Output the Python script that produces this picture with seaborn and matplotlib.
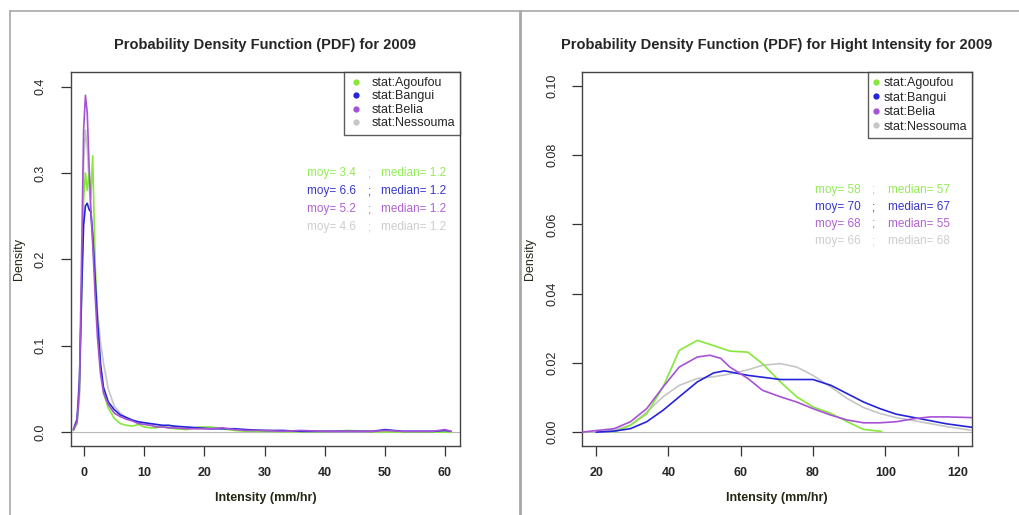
import numpy as np
import pandas as pd
import matplotlib
matplotlib.use("Agg")
import matplotlib.pyplot as plt
from matplotlib.lines import Line2D
import seaborn as sns

# ---------------- data ----------------
stations = ["Agoufou", "Bangui", "Belia", "Nessouma"]
line_colors = ["#86e83a", "#2424d8", "#a652d6", "#c6c6c6"]
text_colors = ["#92ec56", "#3838cc", "#b062d2", "#cdcdcd"]

# left panel: all intensities
x_all = [-1.8, -1.2, -0.8, -0.4, -0.1, 0.2, 0.5, 0.8, 1.1, 1.4, 1.8, 2.2, 2.7, 3.2,
         4.0, 5.0, 6.0, 7.0, 8.0, 9.0, 10, 11, 12, 13, 14, 15, 17, 19, 21, 23, 25,
         27, 30, 33, 36, 40, 44, 48, 50, 53, 56, 58, 60, 61]
y_all_agoufou = [0.002, 0.01, 0.045, 0.17, 0.27, 0.30, 0.28, 0.30, 0.27, 0.32, 0.20,
                 0.13, 0.075, 0.045, 0.028, 0.016, 0.010, 0.008, 0.007, 0.009, 0.006,
                 0.005, 0.005, 0.007, 0.005, 0.004, 0.003, 0.006, 0.006, 0.004, 0.002,
                 0.001, 0.001, 0.0005, 0.0005, 0.0005, 0.002, 0.0003, 0.0003, 0.0002,
                 0.0002, 0.0001, 0.0001, 0.0]
y_all_bangui = [0.003, 0.015, 0.06, 0.17, 0.24, 0.262, 0.265, 0.258, 0.255, 0.23, 0.18,
                0.13, 0.08, 0.052, 0.035, 0.026, 0.02, 0.017, 0.014, 0.012, 0.011,
                0.010, 0.009, 0.008, 0.008, 0.007, 0.006, 0.005, 0.004, 0.004, 0.004,
                0.003, 0.002, 0.002, 0.001, 0.001, 0.001, 0.001, 0.003, 0.001, 0.001,
                0.001, 0.002, 0.001]
y_all_belia = [0.003, 0.012, 0.05, 0.22, 0.35, 0.39, 0.37, 0.31, 0.26, 0.22, 0.16,
               0.11, 0.068, 0.046, 0.032, 0.022, 0.018, 0.015, 0.013, 0.010, 0.009,
               0.008, 0.006, 0.006, 0.005, 0.005, 0.004, 0.004, 0.004, 0.005, 0.003,
               0.002, 0.002, 0.001, 0.002, 0.001, 0.001, 0.001, 0.002, 0.001, 0.001,
               0.001, 0.003, 0.001]
y_all_nessouma = [0.002, 0.01, 0.04, 0.18, 0.31, 0.35, 0.33, 0.29, 0.25, 0.22, 0.18,
                  0.14, 0.105, 0.08, 0.05, 0.03, 0.022, 0.017, 0.014, 0.012, 0.010,
                  0.009, 0.008, 0.007, 0.006, 0.006, 0.005, 0.004, 0.004, 0.004, 0.003,
                  0.002, 0.002, 0.001, 0.001, 0.001, 0.001, 0.001, 0.001, 0.0005,
                  0.0005, 0.0005, 0.0005, 0.0]

moy_all = ["3.4", "6.6", "5.2", "4.6"]
median_all = ["1.2", "1.2", "1.2", "1.2"]

# right panel: high intensity
x_hi_agoufou = [25, 29.5, 34, 38.5, 43, 48, 52.5, 57, 62, 66, 71, 75.5, 80, 85, 89.5, 94, 99]
y_hi_agoufou = [0.0, 0.002, 0.0053, 0.013, 0.0236, 0.0265, 0.025, 0.0234, 0.0231, 0.0198,
                0.0145, 0.0102, 0.0073, 0.0054, 0.003, 0.0008, 0.0002]
x_hi_bangui = [20, 25, 29.5, 34, 38.5, 43, 48, 52.5, 55.5, 62, 71, 80, 85, 89.5, 94, 98.5,
               103, 108, 112.5, 117, 124]
y_hi_bangui = [0.0, 0.0003, 0.001, 0.003, 0.0063, 0.0102, 0.0145, 0.0171, 0.0177, 0.0164,
               0.0152, 0.0152, 0.0135, 0.0111, 0.0087, 0.0068, 0.0052, 0.0042, 0.0033,
               0.0024, 0.0014]
x_hi_belia = [16, 25, 29.5, 34, 38.5, 43, 48, 51.5, 54.5, 57, 62, 66, 71, 75.5, 80, 85,
              89.5, 94, 98.5, 103, 108, 112.5, 117, 124]
y_hi_belia = [0.0, 0.001, 0.003, 0.0068, 0.013, 0.0188, 0.0217, 0.0222, 0.0213, 0.0188,
              0.0155, 0.0121, 0.0102, 0.0087, 0.0068, 0.0049, 0.0035, 0.0027, 0.0027,
              0.003, 0.0039, 0.0044, 0.0044, 0.0042]
x_hi_nessouma = [20, 25, 29.5, 34, 38.5, 43, 48, 52.5, 57, 62, 66, 71, 75.5, 80, 85, 89.5,
                 94, 98.5, 103, 108, 117, 124]
y_hi_nessouma = [0.0, 0.0006, 0.002, 0.0058, 0.0102, 0.0135, 0.0155, 0.016, 0.0168, 0.018,
                 0.0193, 0.0198, 0.0188, 0.0164, 0.013, 0.0097, 0.0071, 0.0054, 0.0042,
                 0.0033, 0.0016, 0.0005]

moy_hi = ["58", "70", "68", "66"]
median_hi = ["57", "67", "55", "68"]

left_xticks = [0, 10, 20, 30, 40, 50, 60]
left_yticks = [0.0, 0.1, 0.2, 0.3, 0.4]
left_yticklabels = ["0.0", "0.1", "0.2", "0.3", "0.4"]
right_xticks = [20, 40, 60, 80, 100, 120]
right_yticks = [0.00, 0.02, 0.04, 0.06, 0.08, 0.10]
right_yticklabels = ["0.00", "0.02", "0.04", "0.06", "0.08", "0.10"]

# ---------------- style ----------------
sns.set_style("white")
plt.rcParams["font.family"] = ["Liberation Sans", "DejaVu Sans"]

W, H = 1020, 515
fig = plt.figure(figsize=(W / 100, H / 100), dpi=100)
fig.patch.set_facecolor("white")

def frac_box(x0, x1, ytop, ybot):
    return [x0 / W, (H - ybot) / H, (x1 - x0) / W, (ybot - ytop) / H]

axL = fig.add_axes(frac_box(71, 460, 72, 446))
axR = fig.add_axes(frac_box(582, 972, 72, 446))

def long_df(xs, ys):
    rows = []
    for st, xv, yv in zip(stations, xs, ys):
        for a, b in zip(xv, yv):
            rows.append((st, a, b))
    return pd.DataFrame(rows, columns=["station", "x", "y"])

dfL = long_df([x_all] * 4, [y_all_agoufou, y_all_bangui, y_all_belia, y_all_nessouma])
dfR = long_df([x_hi_agoufou, x_hi_bangui, x_hi_belia, x_hi_nessouma],
              [y_hi_agoufou, y_hi_bangui, y_hi_belia, y_hi_nessouma])

pal = dict(zip(stations, line_colors))
draw_order = ["Nessouma", "Agoufou", "Bangui", "Belia"]

for ax, df in [(axL, dfL), (axR, dfR)]:
    ax.axhline(0, color="#b8b8b8", lw=0.8, zorder=1)
    for st in draw_order:
        sub = df[df.station == st]
        sns.lineplot(data=sub, x="x", y="y", color=pal[st], lw=1.2, ax=ax,
                     estimator=None, sort=False, zorder=3)

def style_axes(ax, xlim, ylim, xticks, yticks, ylabels, title, ytick_pad):
    ax.set_xlim(*xlim)
    ax.set_ylim(*ylim)
    ax.set_xticks(xticks)
    ax.set_xticklabels([str(t) for t in xticks], fontsize=9, fontweight="bold")
    ax.set_yticks(yticks)
    ax.set_yticklabels(ylabels, fontsize=9, rotation=90, va="center")
    ax.tick_params(axis="both", which="major", direction="out", length=7, width=0.9,
                   color="#333333", bottom=True, left=True, top=False, right=False)
    ax.tick_params(axis="x", pad=8)
    ax.tick_params(axis="y", pad=ytick_pad)
    for s in ax.spines.values():
        s.set_visible(True)
        s.set_color("#444444")
        s.set_linewidth(1.0)
    ax.set_xlabel("Intensity (mm/hr)", fontsize=9, fontweight="bold", color="#262614")
    ax.set_ylabel("Density", fontsize=9, color="#262614")
    ax.xaxis.set_label_coords(0.5, -0.123)
    ax.yaxis.set_label_coords(-0.118, 0.5)
    ax.set_title(title, fontsize=10.5, fontweight="bold", y=1.061, pad=0)

style_axes(axL, (-2.2, 62.5), (-0.016, 0.417), left_xticks, left_yticks,
           left_yticklabels, "Probability Density Function (PDF) for 2009", 11)
style_axes(axR, (16.1, 124.0), (-0.004, 0.104), right_xticks, right_yticks,
           right_yticklabels, "Probability Density Function (PDF) for Hight Intensity for 2009", 10)

# legends
for ax, lspace, hlen, tpad in [(axL, 0.12, 1.2, 0.6), (axR, 0.2, 0.5, 0.35)]:
    handles = [Line2D([], [], ls="none", marker="o", ms=3.5, color=c, mec=c)
               for c in line_colors]
    leg = ax.legend(handles, ["stat:" + s for s in stations], loc="upper right",
                    bbox_to_anchor=(1.0, 1.0), borderaxespad=0, fontsize=9,
                    frameon=True, fancybox=False, handlelength=hlen,
                    handletextpad=tpad, labelspacing=lspace, borderpad=0.4)
    leg.get_frame().set_edgecolor("#333333")
    leg.get_frame().set_linewidth(1.0)

# annotations (mean / median)
def annotate(ax, x0, rows_y, moys, meds, xsemi, xmed):
    for yy, m, md, c in zip(rows_y, moys, meds, text_colors):
        ax.text(x0, yy, "moy= " + m, color=c, fontsize=8.5, transform=ax.transAxes, va="center")
        ax.text(xsemi, yy, ";", color=c, fontsize=8.5, transform=ax.transAxes, va="center")
        ax.text(xmed, yy, "median= " + md, color=c, fontsize=8.5, transform=ax.transAxes, va="center")

def fx(px, x0, x1):
    return (px - x0) / (x1 - x0)

def fy(py):
    return (446 - py) / (446 - 72)

annotate(axL, fx(307, 71, 460), [fy(v) for v in (173, 191, 209, 227)], moy_all, median_all,
         fx(368, 71, 460), fx(381, 71, 460))
annotate(axR, fx(815, 582, 972), [fy(v) for v in (190, 207, 224, 241)], moy_hi, median_hi,
         fx(872, 582, 972), fx(888, 582, 972))

# screenshot frame lines
fig.add_artist(Line2D([10 / W, 1.0], [1 - 11 / H, 1 - 11 / H], color="#a8a8a8", lw=1.2))
fig.add_artist(Line2D([10 / W, 10 / W], [0, 1 - 11 / H], color="#a8a8a8", lw=1.2))
fig.add_artist(Line2D([520 / W, 520 / W], [0, 1 - 11 / H], color="#a8a8a8", lw=2.0))

fig.savefig("out.png", dpi=100, facecolor="white")
